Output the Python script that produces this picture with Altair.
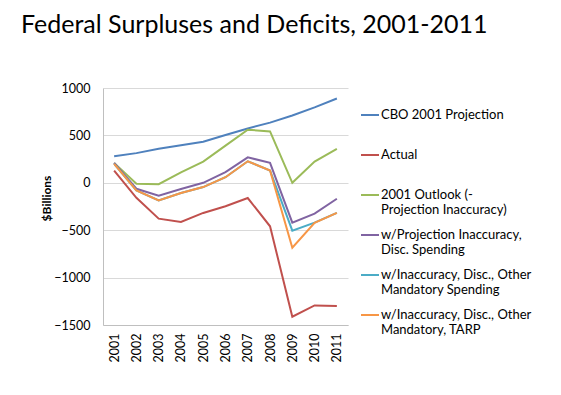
import altair as alt
import pandas as pd

years = ["2001", "2002", "2003", "2004", "2005", "2006", "2007", "2008", "2009", "2010", "2011"]

series_names = [
    "CBO 2001 Projection",
    "Actual",
    "2001 Outlook (-|Projection Inaccuracy)",
    "w/Projection Inaccuracy,|Disc. Spending",
    "w/Inaccuracy, Disc., Other|Mandatory Spending",
    "w/Inaccuracy, Disc., Other|Mandatory, TARP",
]
series_colors = ["#4F81BD", "#C0504D", "#9BBB59", "#8064A2", "#4BACC6", "#F79646"]

cbo_projection = [281, 313, 359, 397, 433, 505, 573, 635, 710, 796, 889]
actual = [128, -158, -378, -413, -318, -248, -161, -459, -1413, -1294, -1300]
outlook_2001 = [210, -10, -14, 110, 224, 392, 560, 542, 0, 224, 357]
w_proj_disc = [210, -63, -136, -65, 0, 112, 269, 210, -420, -325, -168]
w_other_mand = [200, -80, -185, -108, -45, 59, 227, 130, -505, -420, -318]
w_other_mand_tarp = [200, -80, -185, -108, -45, 59, 227, 130, -685, -423, -318]

all_values = [cbo_projection, actual, outlook_2001, w_proj_disc, w_other_mand, w_other_mand_tarp]

rows = []
for i, (name, vals) in enumerate(zip(series_names, all_values)):
    for y, v in zip(years, vals):
        rows.append({"year": y, "value": v, "series": name, "order": i})
df = pd.DataFrame(rows)

FONT = "Lato"

chart = alt.Chart(df).mark_line(strokeWidth=2).encode(
    x=alt.X("year:O", sort=years, title=None,
            axis=alt.Axis(labelAngle=-90, ticks=False, labelPadding=8, labelFontSize=12.5,
                          labelFont=FONT, labelColor="#000000", domainColor="#bfbfbf",
                          grid=False)),
    y=alt.Y("value:Q", title="$Billions",
            scale=alt.Scale(domain=[-1500, 1000], nice=False, zero=False),
            axis=alt.Axis(values=[-1500, -1000, -500, 0, 500, 1000], ticks=False, format="d",
                          labelPadding=13, labelFontSize=12.5, labelFont=FONT,
                          labelColor="#000000", domainColor="#bfbfbf",
                          gridColor="#d9d9d9", titleFont=FONT, titleFontSize=12,
                          titleFontWeight="bold", titleColor="#000000", titlePadding=0,
                          titleY=110)),
    color=alt.Color("series:N", sort=series_names,
                    scale=alt.Scale(domain=series_names, range=series_colors),
                    legend=alt.Legend(title=None, orient="none", legendX=257, legendY=17,
                                      symbolType="stroke", symbolStrokeWidth=2,
                                      symbolSize=324, labelFont=FONT, labelFontSize=13,
                                      labelColor="#000000", labelLimit=300,
                                      labelExpr="split(indexof(datum.label, '|') < 0 ? datum.label + '|' : datum.label, '|')",
                                      gridAlign="all", rowPadding=8, labelOffset=1)),
    order=alt.Order("order:Q"),
    detail="series:N",
).properties(
    width=245,
    height=237,
    title=alt.TitleParams("Federal Surpluses and Deficits, 2001-2011", anchor="start",
                          frame="group", font=FONT, fontSize=25, fontWeight="normal",
                          color="#000000", dx=-82, offset=44),
    autosize=alt.AutoSizeParams(type="none"),
    padding={"left": 95, "top": 80, "right": 205, "bottom": 62},
).configure_view(stroke=None)

chart.save("out.html", embed_options={"renderer": "svg", "actions": False})
